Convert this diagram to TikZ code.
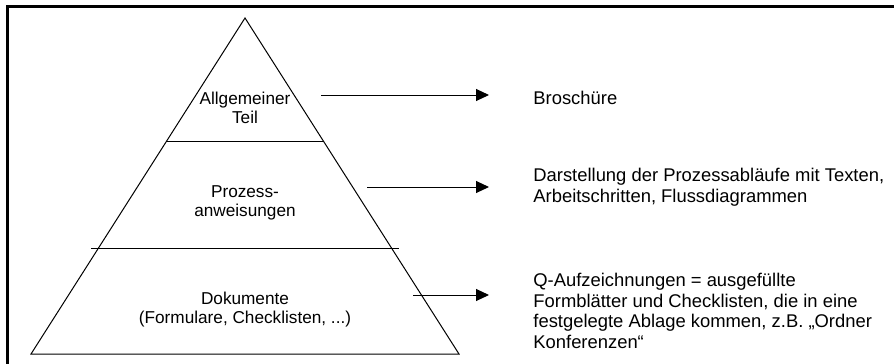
\documentclass[tikz,border=0pt]{standalone}
\usepackage{fontspec}
\setmainfont{Liberation Sans}
\usetikzlibrary{arrows.meta,positioning,calc}

\begin{document}
\begin{tikzpicture}[
  x=0.5pt, y=-0.5pt,
  level/.style={align=center, inner sep=0pt, anchor=north, font=\fontsize{8.6}{9.5}\selectfont},
  note/.style={align=left, inner sep=0pt, anchor=north west, font=\fontsize{9.2}{10.25}\selectfont},
  arrow/.style={-{Triangle[length=6.5pt,width=6pt]}, line width=0.5pt, shorten >=22pt},
  edge/.style={line width=0.5pt},
  frame/.style={line width=1.5pt},
]
  \useasboundingbox (0,0) rectangle (894,364);
  % frame (only top and left edge visible)
  \draw[frame] (7.5,364) -- (7.5,6.5) -- (894,6.5);

  % pyramid
  \coordinate (apex) at (245,18);
  \coordinate (bl) at (31,354);
  \coordinate (br) at (459,354);
  \draw[edge] (bl) -- (apex) -- (br) -- cycle;
  \draw[edge] (167,141) -- (323,141);
  \draw[edge] (91,248) -- (399,248);

  % levels
  \node[level] (teil) at (245,91.5) {Allgemeiner\\ Teil};
  \node[level] (proz) at (245,185) {Prozess-\\ anweisungen};
  \node[level] (doku) at (245,291.5) {Dokumente\\ (Formulare, Checklisten, ...)};

  % descriptions
  \node[note] (brosch) at (533,91) {Broschüre};
  \node[note] (darst) at (533,168) {Darstellung der Prozessabläufe mit Texten,\\ Arbeitschritten, Flussdiagrammen};
  \node[note] (qauf) at (533,273) {Q-Aufzeichnungen = ausgefüllte\\ Formblätter und Checklisten, die in eine\\ festgelegte Ablage kommen, z.B. „Ordner\\ Konferenzen“};

  % arrows
  \coordinate (s1) at (321,95);
  \coordinate (s2) at (367,187);
  \coordinate (s3) at (413,295);
  \draw[arrow] (s1) -- (s1 -| brosch.west);
  \draw[arrow] (s2) -- (s2 -| darst.west);
  \draw[arrow] (s3) -- (s3 -| qauf.west);
\end{tikzpicture}
\end{document}
